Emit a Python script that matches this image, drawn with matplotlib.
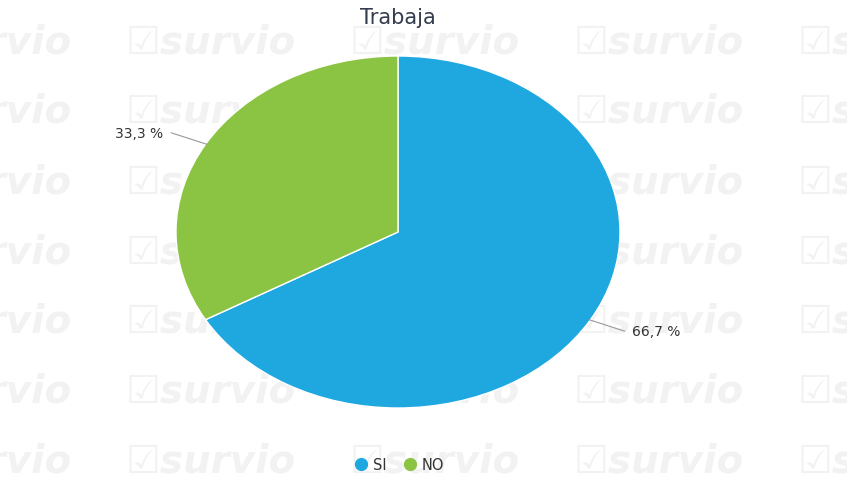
import numpy as np
import matplotlib.pyplot as plt
from matplotlib.lines import Line2D

labels = ['SI', 'NO']
values = [66.7, 33.3]
colors = ['#1fa8e0', '#8bc443']
title = 'Trabaja'

W, H = 847, 485
fig = plt.figure(figsize=(W / 100, H / 100), dpi=100)
fig.patch.set_facecolor('white')

# faint watermark grid, kept behind the pie
for row in range(7):
    yy = H - (42 + 70 * row)
    for col in range(5):
        xx = -98 + 224 * col
        fig.text(xx / W, yy / H, '\u2611survio', fontsize=28, fontweight='bold',
                 fontstyle='italic', color='#f2f2f2', ha='left', va='center',
                 zorder=-5)

# elliptical pie: centre (398, 233), rx 222, ry 176 px
cx, cy, rx, ry = 398, 233, 222, 176
ax = fig.add_axes([(cx - rx) / W, (H - cy - ry) / H, 2 * rx / W, 2 * ry / H])
ax.set_zorder(2)
ax.set_facecolor('none')
wedges, _ = ax.pie(values, colors=colors, startangle=90, counterclock=False,
                   radius=1, wedgeprops=dict(edgecolor='white', linewidth=1))
ax.set_aspect('auto')
ax.set_xlim(-1, 1)
ax.set_ylim(-1, 1)
ax.axis('off')

for w, v in zip(wedges, values):
    ang = np.deg2rad((w.theta1 + w.theta2) / 2)
    x0, y0 = np.cos(ang), np.sin(ang)
    x1, y1 = x0 * 1.18, y0 * 1.125
    ax.plot([x0 * 0.995, x1], [y0 * 0.995, y1], color='#999999', lw=0.8,
            clip_on=False)
    side = 1 if x0 > 0 else -1
    ax.text(x1 + side * 0.035, y1, f'{v:.1f} %'.replace('.', ','),
            ha='left' if side > 0 else 'right', va='center', fontsize=10,
            color='#333333', clip_on=False)

fig.text(cx / W, 1 - 18 / H, title, ha='center', va='center', fontsize=15,
         color='#333d4d', zorder=3)

handles = [Line2D([], [], marker='o', ls='none', markersize=8.5,
                  markerfacecolor=c, markeredgecolor=c) for c in colors]
leg = fig.legend(handles, labels, loc='center', bbox_to_anchor=(cx / W, 1 - 466 / H),
                 ncol=2, frameon=False, fontsize=10.5, handletextpad=0.2,
                 columnspacing=1.0, handlelength=1.2,
                 labelcolor='#333333')
leg.set_zorder(3)

fig.savefig('out.png', dpi=100)
